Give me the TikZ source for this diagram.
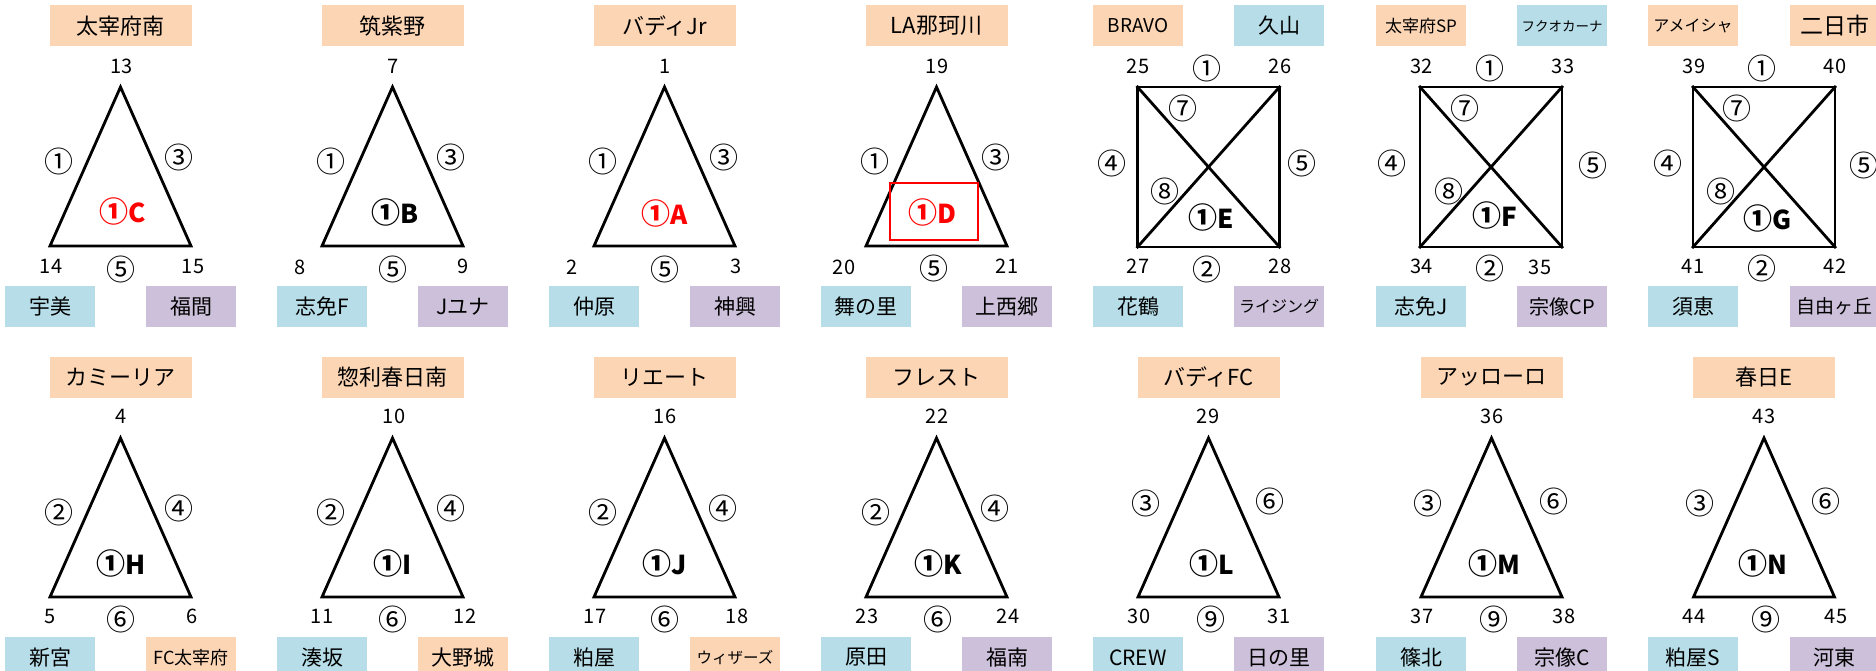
\documentclass[tikz,border=0pt]{standalone}
\usepackage{fontspec}
\setmainfont{Noto Sans CJK JP}
\definecolor{org}{HTML}{FCD5B5}
\definecolor{blu}{HTML}{B7DEE8}
\definecolor{pur}{HTML}{CCC0DA}
\definecolor{redt}{HTML}{FF0000}
\newcommand\fs[1]{\fontsize{#1}{#1}\selectfont}
\newcommand\one{{\fs{29}①}}
% triangle: id, cx, yoffset
\newcommand\mytri[3]{%
  \coordinate (#1a) at ({#2},{87+#3});
  \coordinate (#1b) at ({#2-70.5},{246+#3});
  \coordinate (#1c) at ({#2+70.5},{246+#3});
  \draw[shp] (#1a) -- (#1b) -- (#1c) -- cycle;}
% crossed rectangle: id, cx
\newcommand\myrect[2]{%
  \coordinate (#1a) at ({#2-71},87);
  \coordinate (#1b) at ({#2+71},87);
  \coordinate (#1c) at ({#2+71},247);
  \coordinate (#1d) at ({#2-71},247);
  \draw[shp] (#1a) -- (#1b) -- (#1c) -- (#1d) -- cycle;
  \draw[shp] (#1a) -- (#1c);
  \draw[shp] (#1b) -- (#1d);}
\begin{document}
\begin{tikzpicture}[x=1pt,y=-1pt,
  shp/.style={line width=2.8pt, line join=miter, line cap=rect},
  bx/.style={minimum width=90pt, minimum height=41pt, inner sep=0pt, font=\fs{21}},
  ttl/.style={bx, minimum width=142pt, fill=org, font=\fs{22}},
  ob/.style={bx, fill=org}, bb/.style={bx, fill=blu}, pb/.style={bx, fill=pur},
  num/.style={inner sep=0pt, font=\fs{20}},
  cir/.style={inner sep=0pt, font=\fs{29}},
  inl/.style={inner sep=0pt, font=\bfseries\fs{26}},
  rinl/.style={inl, text=redt}]
\useasboundingbox (0,0) rectangle (1876,671);
\fill[white] (0,0) rectangle (1876,671);

% ===== Row 1 =====
% T1
\node[ttl] (h1) at (120.5,26) {太宰府南};
\mytri{t1}{120.5}{0}
\node[num] (t1n1) at (121.5,66) {13};
\node[cir] (t1s1) at (59,161) {①};
\node[cir] (t1s2) at (179,157) {③};
\node[rinl] (t1in) at (123,211) {\one C};
\node[num] (t1n2) at (51,266) {14};
\node[cir] (t1s3) at (121,269) {⑤};
\node[num] (t1n3) at (193,266) {15};
\node[bb] (t1l) at (50,306.5) {宇美};
\node[pb] (t1r) at (191,306.5) {福間};
% T2
\node[ttl] (h2) at (392.5,26) {筑紫野};
\mytri{t2}{392.5}{0}
\node[num] (t2n1) at (393,66) {7};
\node[cir] (t2s1) at (331,161) {①};
\node[cir] (t2s2) at (451,157) {③};
\node[inl] (t2in) at (395,212) {\one B};
\node[num] (t2n2) at (300,267) {8};
\node[cir] (t2s3) at (393,269) {⑤};
\node[num] (t2n3) at (463,266) {9};
\node[bb] (t2l) at (322,306.5) {志免F};
\node[pb] (t2r) at (463,306.5) {Jユナ};
% T3
\node[ttl] (h3) at (664.5,26) {バディJr};
\mytri{t3}{664.5}{0}
\node[num] (t3n1) at (665,66) {1};
\node[cir] (t3s1) at (603,161) {①};
\node[cir] (t3s2) at (724,157) {③};
\node[rinl] (t3in) at (665,213) {\one A};
\node[num] (t3n2) at (572,267) {2};
\node[cir] (t3s3) at (665,269) {⑤};
\node[num] (t3n3) at (736,266) {3};
\node[bb] (t3l) at (594,306.5) {仲原};
\node[pb] (t3r) at (735,306.5) {神興};
% T4
\node[ttl] (h4) at (936.5,26) {LA那珂川};
\mytri{t4}{936.5}{0}
\node[num] (t4n1) at (937,66) {19};
\node[cir] (t4s1) at (875,161) {①};
\node[cir] (t4s2) at (996,157) {③};
\node[draw=redt, line width=1.2pt, minimum width=88pt, minimum height=57pt, inner sep=0pt] (t4box) at (934,211.5) {};
\node[rinl] (t4in) at (932.5,212) {\one D};
\node[num] (t4n2) at (844,267) {20};
\node[cir] (t4s3) at (934,268) {⑤};
\node[num] (t4n3) at (1007,266) {21};
\node[bb] (t4l) at (866,306.5) {舞の里};
\node[pb] (t4r) at (1007,306.5) {上西郷};
% R5
\node[ob, font=\fs{19}] (h5a) at (1138,26) {BRAVO};
\node[bb] (h5b) at (1279,26) {久山};
\myrect{r5}{1208.5}
\node[num] (r5n1) at (1138,66) {25};
\node[cir] (r5s1) at (1207,68) {①};
\node[num] (r5n2) at (1280,66) {26};
\node[cir] (r5s7) at (1183,108) {⑦};
\node[cir] (r5s4) at (1112,163) {④};
\node[cir] (r5s5) at (1302,163) {⑤};
\node[cir] (r5s8) at (1165,191) {⑧};
\node[inl] (r5in) at (1211,217) {\one E};
\node[num] (r5n3) at (1138,266) {27};
\node[cir] (r5s2) at (1207,269) {②};
\node[num] (r5n4) at (1280,266) {28};
\node[bb] (r5l) at (1138,306.5) {花鶴};
\node[pb, font=\fs{16}] (r5r) at (1279,306.5) {ライジング};
% R6
\node[ob, font=\fs{17}] (h6a) at (1421,26) {太宰府SP};
\node[bb, font=\fs{13.5}] (h6b) at (1562,26) {フクオカーナ};
\myrect{r6}{1491}
\node[num] (r6n1) at (1421.5,66) {32};
\node[cir] (r6s1) at (1489.5,68) {①};
\node[num] (r6n2) at (1563,66) {33};
\node[cir] (r6s7) at (1465,108) {⑦};
\node[cir] (r6s4) at (1392,163) {④};
\node[cir] (r6s5) at (1592.5,165) {⑤};
\node[cir] (r6s8) at (1449,191) {⑧};
\node[inl] (r6in) at (1495,215) {\one F};
\node[num] (r6n3) at (1421.5,266) {34};
\node[cir] (r6s2) at (1489.5,268) {②};
\node[num] (r6n4) at (1540,267) {35};
\node[bb] (r6l) at (1421,306.5) {志免J};
\node[pb, font=\fs{20}] (r6r) at (1562,306.5) {宗像CP};
% R7
\node[ob, font=\fs{16}] (h7a) at (1693,26) {アメイシャ};
\node[ob, font=\fs{23}] (h7b) at (1834.5,26) {二日市};
\myrect{r7}{1764}
\node[num] (r7n1) at (1694,66) {39};
\node[cir] (r7s1) at (1762,68) {①};
\node[num] (r7n2) at (1835,66) {40};
\node[cir] (r7s7) at (1737,108) {⑦};
\node[cir] (r7s4) at (1668,163) {④};
\node[cir] (r7s5) at (1864,165) {⑤};
\node[cir] (r7s8) at (1720.5,191) {⑧};
\node[inl] (r7in) at (1768,218) {\one G};
\node[num] (r7n3) at (1693,266) {41};
\node[cir] (r7s2) at (1762,268) {②};
\node[num] (r7n4) at (1835,266) {42};
\node[bb] (r7l) at (1693,306.5) {須恵};
\node[pb, font=\fs{19}] (r7r) at (1834.5,306.5) {自由ヶ丘};

% ===== Row 2 =====
% T8
\node[ttl] (h8) at (120.5,377) {カミーリア};
\mytri{t8}{120.5}{351}
\node[num] (t8n1) at (121,416) {4};
\node[cir] (t8s1) at (59,512) {②};
\node[cir] (t8s2) at (179,508) {④};
\node[inl] (t8in) at (121,563) {\one H};
\node[num] (t8n2) at (50,616) {5};
\node[cir] (t8s3) at (121,619) {⑥};
\node[num] (t8n3) at (192,616) {6};
\node[bb] (t8l) at (50,657.5) {新宮};
\node[ob, font=\fs{18}] (t8r) at (191,657.5) {FC太宰府};
% T9
\node[ttl] (h9) at (392.5,377) {惣利春日南};
\mytri{t9}{392.5}{351}
\node[num] (t9n1) at (394,416) {10};
\node[cir] (t9s1) at (331,512) {②};
\node[cir] (t9s2) at (451,508) {④};
\node[inl] (t9in) at (393,563) {\one I};
\node[num] (t9n2) at (322,616) {11};
\node[cir] (t9s3) at (393,619) {⑥};
\node[num] (t9n3) at (465,616) {12};
\node[bb] (t9l) at (322,657.5) {湊坂};
\node[ob] (t9r) at (463,657.5) {大野城};
% T10
\node[ttl] (h10) at (664.5,377) {リエート};
\mytri{t10}{664.5}{351}
\node[num] (t10n1) at (665,416) {16};
\node[cir] (t10s1) at (603,512) {②};
\node[cir] (t10s2) at (723,508) {④};
\node[inl] (t10in) at (665,563) {\one J};
\node[num] (t10n2) at (595,616) {17};
\node[cir] (t10s3) at (665,619) {⑥};
\node[num] (t10n3) at (737,616) {18};
\node[bb] (t10l) at (594,657.5) {粕屋};
\node[ob, font=\fs{15.5}] (t10r) at (735,657.5) {ウィザーズ};
% T11
\node[ttl] (h11) at (936.5,377) {フレスト};
\mytri{t11}{936.5}{351}
\node[num] (t11n1) at (937,416) {22};
\node[cir] (t11s1) at (875.5,512) {②};
\node[cir] (t11s2) at (995,508) {④};
\node[inl] (t11in) at (938,563) {\one K};
\node[num] (t11n2) at (867,616) {23};
\node[cir] (t11s3) at (938,619) {⑥};
\node[num] (t11n3) at (1008,616) {24};
\node[bb] (t11l) at (866,657.5) {原田};
\node[pb] (t11r) at (1007,657.5) {福南};
% T12
\node[ttl] (h12) at (1208.5,377) {バディFC};
\mytri{t12}{1208.5}{351}
\node[num] (t12n1) at (1208,416) {29};
\node[cir] (t12s1) at (1146,503) {③};
\node[cir] (t12s2) at (1270,501) {⑥};
\node[inl] (t12in) at (1212,563) {\one L};
\node[num] (t12n2) at (1139,616) {30};
\node[cir] (t12s3) at (1211,619) {⑨};
\node[num] (t12n3) at (1279,616) {31};
\node[bb] (t12l) at (1138,657.5) {CREW};
\node[pb] (t12r) at (1279,657.5) {日の里};
% T13
\node[ttl] (h13) at (1491.5,377) {アッローロ};
\mytri{t13}{1491.5}{351}
\node[num] (t13n1) at (1492,416) {36};
\node[cir] (t13s1) at (1428,503) {③};
\node[cir] (t13s2) at (1554,501) {⑥};
\node[inl] (t13in) at (1494,563) {\one M};
\node[num] (t13n2) at (1422,616) {37};
\node[cir] (t13s3) at (1494,619) {⑨};
\node[num] (t13n3) at (1564,616) {38};
\node[bb] (t13l) at (1421,657.5) {篠北};
\node[pb] (t13r) at (1562,657.5) {宗像C};
% T14
\node[ttl] (h14) at (1764,377) {春日E};
\mytri{t14}{1764}{351}
\node[num] (t14n1) at (1764,416) {43};
\node[cir] (t14s1) at (1700,503) {③};
\node[cir] (t14s2) at (1826,501) {⑥};
\node[inl] (t14in) at (1763,563) {\one N};
\node[num] (t14n2) at (1694,616) {44};
\node[cir] (t14s3) at (1766,619) {⑨};
\node[num] (t14n3) at (1836,616) {45};
\node[bb] (t14l) at (1693,657.5) {粕屋S};
\node[pb] (t14r) at (1834.5,657.5) {河東};
\end{tikzpicture}
\end{document}
